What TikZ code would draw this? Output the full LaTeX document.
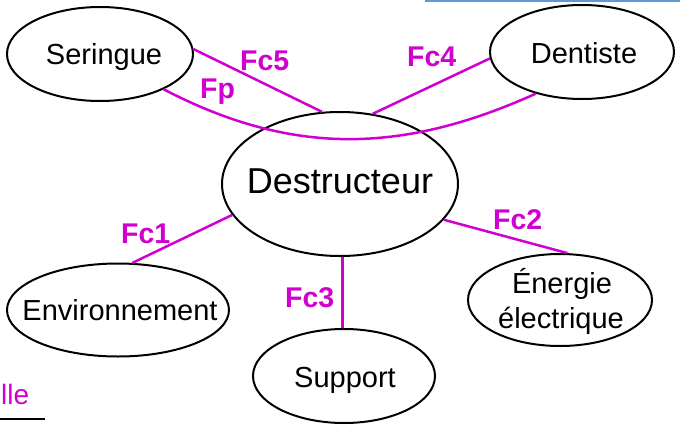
\documentclass[tikz,border=0pt]{standalone}
\usepackage{fontspec}
\setmainfont{Liberation Sans}
\usetikzlibrary{shapes.geometric}
\definecolor{mag}{RGB}{208,0,208}
\definecolor{topblue}{RGB}{91,155,213}
\begin{document}
\begin{tikzpicture}[x=1pt,y=-1pt,
 ell/.style={draw=black, line width=2pt, ellipse, inner sep=0pt},
 txt/.style={font=\fontsize{29}{35}\selectfont, inner sep=0pt, anchor=base},
 lab/.style={font=\fontsize{28.5}{32}\selectfont\bfseries, text=mag, inner sep=0pt, anchor=base west},
 con/.style={draw=mag, line width=2.5pt}]
\useasboundingbox (0,0) rectangle (680,426);
% top blue rule
\draw[topblue, line width=2pt] (425,1) -- (680,1);
% ellipses
\node[ell, minimum width=186pt, minimum height=94pt] (ser) at (100,54) {};
\node[ell, minimum width=184pt, minimum height=94pt] (den) at (582,52) {};
\node[ell, minimum width=236pt, minimum height=144pt] (des) at (340,184) {};
\node[ell, minimum width=222pt, minimum height=93pt] (env) at (118,310) {};
\node[ell, minimum width=182pt, minimum height=94pt] (sup) at (344,376) {};
\node[ell, minimum width=184pt, minimum height=92pt] (ene) at (560,300) {};
% texts
\node[txt] (tser) at (104,64) {Seringue};
\node[txt] (tden) at (584,63) {Dentiste};
\node[txt, font=\fontsize{36}{40}\selectfont] (tdes) at (340,193) {Destructeur};
\node[txt] (tenv) at (120,320) {Environnement};
\node[txt] (tsup) at (345,387) {Support};
\node[txt] (tene1) at (562,293) {Énergie};
\node[txt] (tene2) at (561,328) {électrique};
% connectors
\draw[con] (ser.3) -- (des.104);
\draw[con] (des.65) -- (den.184);
\draw[con] (ser.-29) .. controls (290,155) and (400,155) .. (den.222);
\draw[con] (des.196) -- (env.73);
\draw[con] (des.-19) -- (ene.81);
\draw[con] (des.-88) -- (sup.north -| des.-88);
% labels
\node[lab] (l5) at (240,70) {Fc5};
\node[lab] (l4) at (407,66) {Fc4};
\node[lab] (lp) at (200,98) {Fp};
\node[lab] (l1) at (121,243) {Fc1};
\node[lab] (l2) at (493,229) {Fc2};
\node[lab] (l3) at (285,307) {Fc3};
% cut-off text at bottom left
\node[font=\fontsize{28}{32}\selectfont, text=mag, inner sep=0pt, anchor=base west] (lle) at (1,404) {lle};
\draw[line width=2pt] (0,419) -- (45,419);
\end{tikzpicture}
\end{document}
